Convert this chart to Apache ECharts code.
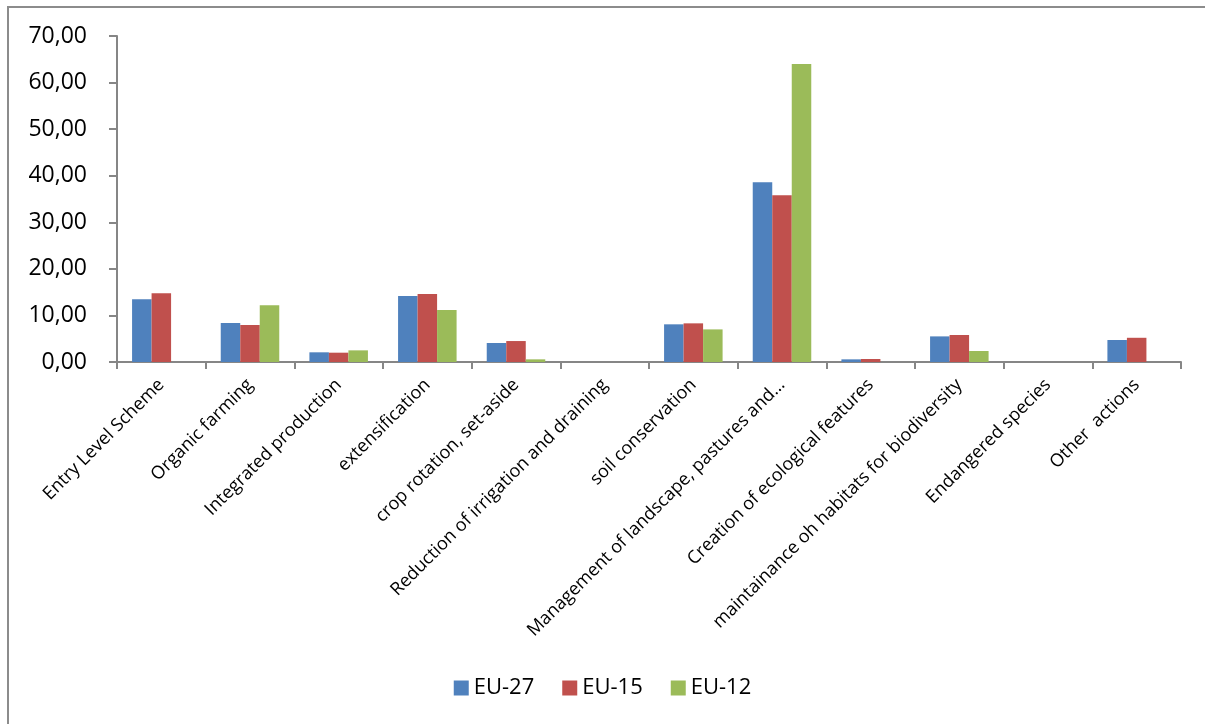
<!DOCTYPE html>
<html>
<head>
<meta charset="utf-8">
<script src="https://cdn.jsdelivr.net/npm/echarts@6/dist/echarts.min.js"></script>
<style>
  html, body { margin: 0; padding: 0; background: #ffffff; }
  #chart { width: 1205px; height: 724px; }
</style>
</head>
<body>
<div id="chart"></div>
<script>
// Agri-environment measures: share per action type
const categories = [
  'Entry Level Scheme',
  'Organic farming',
  'Integrated production',
  'extensification',
  'crop rotation, set-aside',
  'Reduction of irrigation and draining',
  'soil conservation',
  'Management of landscape, pastures and…',
  'Creation of ecological features',
  'maintainance oh habitats for biodiversity',
  'Endangered species',
  'Other  actions'
];
const seriesNames = ['EU-27', 'EU-15', 'EU-12'];
const eu27 = [13.45, 8.37, 2.08, 14.17, 4.08, 0, 8.09, 38.58, 0.57, 5.5, 0, 4.72];
const eu15 = [14.75, 7.95, 2.0, 14.6, 4.5, 0, 8.3, 35.8, 0.64, 5.8, 0, 5.2];
const eu12 = [0, 12.17, 2.5, 11.17, 0.57, 0, 7.0, 64.0, 0, 2.36, 0, 0];
const yTicks = { min: 0, max: 70, interval: 10 };

const palette = ['#4F81BD', '#C0504D', '#9BBB59'];
const font = '"Open Sans", "Liberation Sans", sans-serif';

const chart = echarts.init(document.getElementById('chart'), null, { renderer: 'canvas' });

function makeSeries(name, data, color) {
  return {
    name: name,
    type: 'bar',
    data: data,
    barGap: '0%',
    barCategoryGap: '34%',
    itemStyle: { color: color },
    emphasis: { disabled: true }
  };
}

chart.setOption({
  animation: false,
  backgroundColor: '#ffffff',
  color: palette,
  graphic: [{
    type: 'rect',
    shape: { x: 8, y: 7, width: 1400, height: 900 },
    style: { fill: 'none', stroke: '#8c8c8c', lineWidth: 2 },
    silent: true,
    z: -1
  }],
  grid: { left: 117, right: 24, top: 36, bottom: 362, containLabel: false },
  legend: {
    data: seriesNames,
    top: 672,
    left: 'center',
    itemWidth: 15,
    itemHeight: 15,
    itemGap: 28,
    icon: 'rect',
    textStyle: { fontFamily: font, fontSize: 22, color: '#000000' }
  },
  xAxis: {
    type: 'category',
    data: categories,
    axisLine: { lineStyle: { color: '#868686', width: 2 } },
    axisTick: { show: true, length: 7, alignWithLabel: false, lineStyle: { color: '#868686', width: 2 } },
    axisLabel: {
      interval: 0,
      rotate: 45,
      margin: 20,
      fontFamily: font,
      fontSize: 18,
      color: '#000000'
    },
    splitLine: { show: false }
  },
  yAxis: {
    type: 'value',
    min: yTicks.min,
    max: yTicks.max,
    interval: yTicks.interval,
    axisLine: { show: true, lineStyle: { color: '#868686', width: 2 } },
    axisTick: { show: true, length: 8, lineStyle: { color: '#868686', width: 2 } },
    splitLine: { show: false },
    axisLabel: {
      margin: 30,
      fontFamily: font,
      fontSize: 23,
      color: '#000000',
      formatter: v => v.toFixed(2).replace('.', ',')
    }
  },
  series: [
    makeSeries(seriesNames[0], eu27, palette[0]),
    makeSeries(seriesNames[1], eu15, palette[1]),
    makeSeries(seriesNames[2], eu12, palette[2])
  ]
});
</script>
</body>
</html>
